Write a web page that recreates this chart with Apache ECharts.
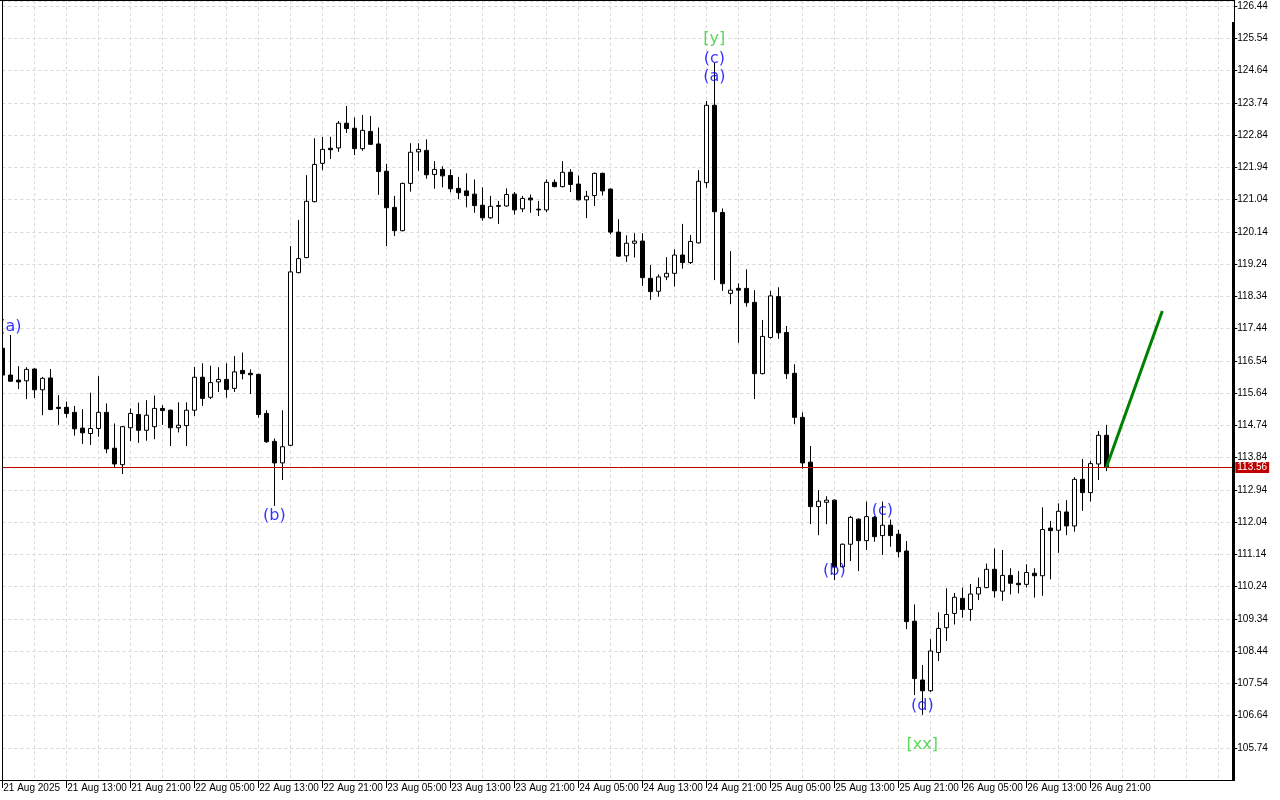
<!DOCTYPE html>
<html>
<head>
<meta charset="utf-8">
<script src="https://cdn.jsdelivr.net/npm/echarts@6/dist/echarts.min.js"></script>
<style>
html,body{margin:0;padding:0;background:#fff;}
#chart{width:1280px;height:800px;}
</style>
</head>
<body>
<div id="chart"></div>
<script>
// Hourly candles, 21 Aug 2025 05:00 .. 26 Aug 2025 23:00
const open = [116.89,116.14,116.00,115.98,116.31,115.73,116.06,115.24,115.24,115.10,114.66,114.51,114.65,115.10,114.10,113.64,114.67,115.04,114.60,114.70,115.21,115.16,114.67,114.73,115.16,116.08,115.52,115.95,116.02,115.77,116.27,116.19,116.16,115.07,114.29,113.69,114.18,119.00,119.42,120.98,122.05,122.47,122.48,123.17,123.03,122.46,122.94,122.59,121.83,120.82,120.17,121.49,122.37,122.41,121.74,121.88,121.71,121.35,121.28,121.19,120.88,120.53,120.87,120.86,121.19,120.78,121.08,120.77,120.75,121.52,121.40,121.80,121.47,121.03,121.15,121.77,121.33,120.13,119.47,119.82,119.88,118.84,118.48,118.88,118.98,119.49,119.28,119.83,121.51,123.67,120.68,118.42,118.56,118.56,118.17,116.18,117.19,118.33,117.33,116.19,114.96,113.71,112.47,112.59,112.65,110.79,111.42,112.12,111.52,112.17,111.66,111.95,111.70,111.23,109.27,107.63,107.33,108.40,109.09,109.49,109.91,109.60,110.03,110.21,110.72,110.11,110.55,110.33,110.30,110.61,110.54,111.87,111.81,112.32,111.93,113.23,112.86,113.66,114.46];
const close = [116.14,115.97,115.95,116.30,115.73,116.05,115.18,115.21,115.07,114.64,114.53,114.65,115.10,114.08,113.66,114.70,115.07,114.60,115.02,115.21,115.15,114.67,114.74,115.16,116.08,115.49,115.93,116.02,115.74,116.23,116.18,116.15,115.04,114.28,113.69,114.14,119.02,119.39,120.99,122.02,122.44,122.43,123.17,123.02,122.46,122.97,122.58,121.82,120.81,120.17,121.49,122.36,122.44,121.73,121.88,121.70,121.34,121.23,121.15,120.87,120.53,120.85,120.85,121.18,120.75,121.07,121.03,120.75,121.52,121.40,121.80,121.46,121.03,121.13,121.77,121.28,120.13,119.46,119.82,119.88,118.86,118.47,118.88,118.98,119.49,119.28,119.87,121.55,123.67,120.70,118.69,118.51,118.51,118.16,116.18,117.22,118.35,117.32,116.18,114.96,113.69,112.47,112.62,112.65,110.79,111.42,112.17,111.52,112.19,111.63,111.95,111.66,111.21,109.26,107.67,107.33,108.44,109.07,109.46,109.94,109.60,110.03,110.21,110.72,110.12,110.55,110.33,110.29,110.63,110.54,111.83,111.80,112.34,111.93,113.23,112.86,113.67,114.46,113.56];
const low = [116.00,115.95,115.75,115.47,115.50,115.02,115.16,114.75,114.95,114.45,114.22,114.19,114.42,113.96,113.56,113.38,114.30,114.25,114.31,114.35,114.75,114.16,114.54,114.16,115.00,115.28,115.47,115.67,115.51,115.67,116.02,115.61,114.95,114.25,112.49,113.21,114.16,118.98,119.40,120.96,121.86,122.17,122.37,122.90,122.28,122.40,122.56,121.17,119.74,120.02,120.15,121.26,121.84,121.62,121.34,121.38,121.24,121.05,120.82,120.67,120.45,120.50,120.36,120.84,120.62,120.69,120.67,120.58,120.69,121.38,121.38,121.25,121.02,120.52,120.86,121.15,120.07,119.44,119.30,119.42,118.63,118.24,118.33,118.79,118.61,119.11,119.24,119.81,121.37,118.79,118.49,118.12,117.04,118.05,115.47,116.16,117.16,117.15,116.03,114.77,113.53,111.98,111.67,111.98,110.42,110.77,110.95,110.67,111.26,111.49,111.12,111.35,111.05,109.05,107.21,106.66,107.30,108.16,108.72,109.18,109.37,109.28,109.86,110.19,109.93,109.84,110.02,110.05,110.21,109.93,109.98,110.44,111.18,111.67,111.77,112.35,112.61,113.21,113.46];
const high = [117.23,117.26,116.39,116.36,116.33,116.09,116.31,115.58,115.40,115.28,115.19,115.65,116.11,115.35,114.79,114.72,115.21,115.37,115.44,115.57,115.30,115.18,115.38,115.38,116.37,116.47,116.40,116.36,116.47,116.67,116.77,116.30,116.18,115.16,114.37,115.16,119.74,120.47,121.72,122.75,122.79,122.79,123.23,123.65,123.33,123.40,123.37,123.05,122.03,121.14,121.51,122.61,122.61,122.72,122.11,121.97,121.88,121.67,121.77,121.60,121.38,121.14,121.00,121.35,121.25,121.14,121.18,121.00,121.60,121.60,122.11,121.89,121.71,121.28,121.79,121.79,121.35,120.49,120.04,120.10,120.10,119.21,118.95,119.43,119.65,120.36,120.05,121.86,123.79,124.85,120.79,119.60,118.70,119.09,118.51,117.68,118.49,118.59,117.51,116.44,115.10,114.16,112.93,112.76,112.67,111.44,112.21,112.14,112.61,112.21,112.61,112.11,111.82,111.51,109.74,108.05,108.77,109.52,110.19,110.06,110.21,110.31,110.49,110.88,111.30,111.26,110.75,110.67,110.86,110.75,112.45,112.07,112.56,112.65,113.29,113.80,113.75,114.58,114.75];

// time axis labels, one every 8 bars
const timeLabels = ["21 Aug 2025","21 Aug 13:00","21 Aug 21:00","22 Aug 05:00","22 Aug 13:00","22 Aug 21:00","23 Aug 05:00","23 Aug 13:00","23 Aug 21:00","24 Aug 05:00","24 Aug 13:00","24 Aug 21:00","25 Aug 05:00","25 Aug 13:00","25 Aug 21:00","26 Aug 05:00","26 Aug 13:00","26 Aug 21:00"];

// price axis: first tick and step
const priceTickStart = 104.84;
const priceTickStep = 0.9;
const lastPrice = 113.56;

// projected move (green line)
const projectionIdx = [138, 145];
const projectionVal = [113.56, 117.93];

// wave annotations
const noteText  = ["(a)","(b)","[y]","(c)","(a)","(b)","(c)","(d)","[xx]"];
const noteIdx   = [1, 34, 89, 89, 89, 104, 110, 115, 115];
const notePrice = [117.48, 112.21, 125.52, 124.96, 124.46, 110.67, 112.35, 106.90, 105.81];

const TOTAL_SLOTS = 155;
const categories = Array.from({length: TOTAL_SLOTS}, (_, i) => String(i));
const candles = open.map((o, i) => [o, close[i], low[i], high[i]]);

const gridColor = '#d9d9d9';
const labelFont = 'Liberation Sans, Arial, sans-serif';
const isTimeTick = (i) => i % 8 === 0 && (i / 8) < timeLabels.length;

const chart = echarts.init(document.getElementById('chart'), null, {renderer: 'canvas'});
chart.setOption({
  animation: false,
  backgroundColor: '#ffffff',
  grid: {left: 2.3, right: 45.7, top: 1, bottom: 20, containLabel: false},
  xAxis: {
    type: 'category',
    data: categories,
    boundaryGap: false,
    axisLine: {show: true, lineStyle: {color: '#000', width: 1}},
    axisTick: {show: true, interval: isTimeTick, length: 8, lineStyle: {color: '#000'}},
    axisLabel: {
      interval: isTimeTick,
      formatter: (v, i) => timeLabels[i / 8] || '',
      align: 'left', margin: 3, padding: [0, 0, 0, 1],
      fontSize: 10, fontFamily: labelFont, color: '#000'
    },
    splitLine: {show: true, interval: (i) => i % 4 === 0, lineStyle: {color: gridColor, type: [3, 3]}}
  },
  yAxis: {
    type: 'value',
    position: 'right',
    min: priceTickStart,
    max: 126.58,
    interval: priceTickStep,
    scale: true,
    axisLine: {show: false},
    axisTick: {show: true, length: 3, lineStyle: {color: '#000'}},
    axisLabel: {
      formatter: (v) => v.toFixed(2),
      showMinLabel: false, showMaxLabel: false,
      margin: 3, fontSize: 10, fontFamily: labelFont, color: '#000'
    },
    splitLine: {show: true, lineStyle: {color: gridColor, type: [3, 3]}}
  },
  series: [
    {
      type: 'candlestick',
      data: candles,
      barWidth: 5,
      clip: true,
      itemStyle: {color: '#ffffff', color0: '#000000', borderColor: '#000000', borderColor0: '#000000', borderWidth: 1},
      markLine: {
        silent: true,
        symbol: 'none',
        lineStyle: {color: '#c00000', width: 1, type: 'solid'},
        label: {
          show: true, position: 'end', distance: 1,
          formatter: lastPrice.toFixed(2),
          backgroundColor: '#c00000', color: '#ffffff',
          padding: [1, 2, 0, 2], fontSize: 10, fontFamily: labelFont
        },
        data: [{yAxis: lastPrice}]
      },
      z: 3
    },
    {
      type: 'line',
      data: projectionIdx.map((x, i) => [x, projectionVal[i]]),
      symbol: 'none',
      lineStyle: {color: '#008000', width: 3},
      z: 5
    },
    {
      type: 'scatter',
      symbol: 'circle',
      symbolSize: 1,
      clip: false,
      itemStyle: {color: 'rgba(0,0,0,0)'},
      data: noteText.map((t, i) => ({
        value: [noteIdx[i], notePrice[i]],
        label: {formatter: t, color: t.startsWith('[') ? '#32cd32' : '#0000ff'}
      })),
      label: {show: true, position: 'inside', fontSize: 16, fontFamily: 'DejaVu Sans, sans-serif'},
      z: 6
    }
  ],
  graphic: [
    {type: 'rect', z: 99, shape: {x: 0, y: 0, width: 2, height: 780}, style: {fill: '#fff'}},
    {type: 'line', z: 100, shape: {x1: 0, y1: 0.5, x2: 1235, y2: 0.5}, style: {stroke: '#000', lineWidth: 1}},
    {type: 'line', z: 100, shape: {x1: 2.5, y1: 0, x2: 2.5, y2: 780}, style: {stroke: '#000', lineWidth: 1}},
    {type: 'line', z: 100, shape: {x1: 1234.5, y1: 0, x2: 1234.5, y2: 780}, style: {stroke: '#000', lineWidth: 1}},
    {type: 'rect', z: 100, shape: {x: 1232, y: 22, width: 3, height: 758}, style: {fill: '#000'}},
    {type: 'line', z: 100, shape: {x1: 0, y1: 780.5, x2: 1235, y2: 780.5}, style: {stroke: '#000', lineWidth: 1}}
  ]
});
</script>
</body>
</html>
